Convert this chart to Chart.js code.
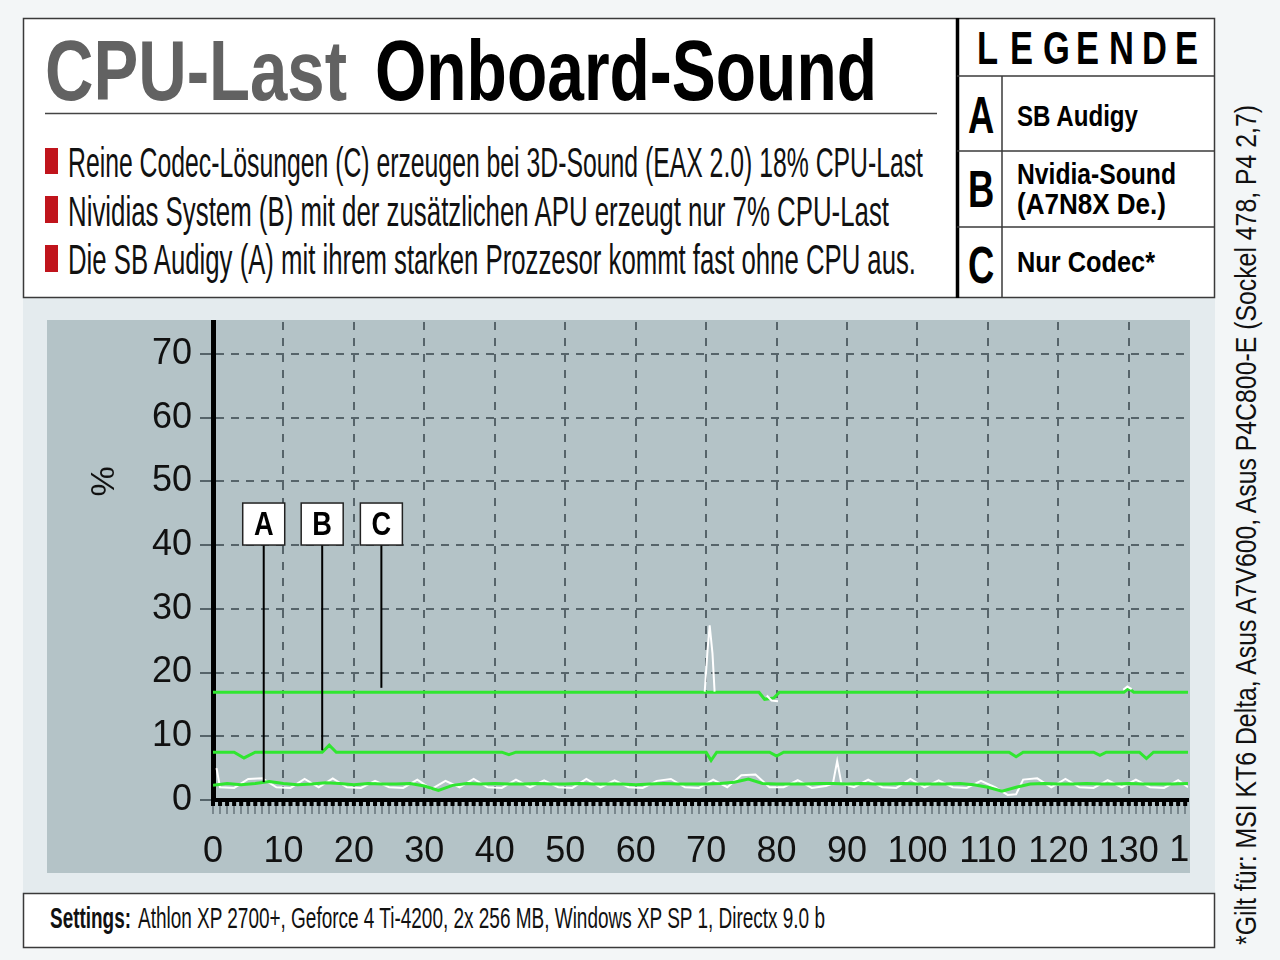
<!DOCTYPE html>
<html>
<head>
<meta charset="utf-8">
<script src="https://cdn.jsdelivr.net/npm/chart.js@4.4.1/dist/chart.umd.min.js"></script>
<style>
  html, body { margin: 0; padding: 0; overflow: hidden; background: #f3f6f7; }
  #page { position: relative; width: 1280px; height: 960px; }
  #page svg { position: absolute; left: 0; top: 0; }
  #cpuChart { position: absolute; left: 47px; top: 320px; }
  .cond { font-family: "Liberation Sans", Arial, sans-serif; }
</style>
</head>
<body>
<div id="page">
<svg width="1280" height="960" class="cond">
  <rect x="0" y="0" width="1280" height="960" fill="#f3f6f7"/>
  <rect x="23" y="298" width="1192" height="595" fill="#e4ebee"/>
  <rect x="23.5" y="18.5" width="1191" height="279" fill="#ffffff" stroke="#3a3a3a" stroke-width="1.5"/>

  <text x="45" y="100" font-size="86" font-weight="bold" fill="#626262" textLength="302" lengthAdjust="spacingAndGlyphs">CPU-Last</text>
  <text x="375" y="100" font-size="86" font-weight="bold" fill="#000" textLength="502" lengthAdjust="spacingAndGlyphs">Onboard-Sound</text>
  <line x1="45" y1="113.5" x2="937" y2="113.5" stroke="#444" stroke-width="1.5"/>

  <rect x="45" y="148" width="13" height="26" fill="#c0141c"/>
  <rect x="45" y="196" width="13" height="27" fill="#c0141c"/>
  <rect x="45" y="245" width="13" height="27" fill="#c0141c"/>
  <text x="68" y="177" font-size="43" fill="#111" textLength="855" lengthAdjust="spacingAndGlyphs">Reine Codec-Lösungen (C) erzeugen bei 3D-Sound (EAX 2.0) 18% CPU-Last</text>
  <text x="68" y="226" font-size="43" fill="#111" textLength="821" lengthAdjust="spacingAndGlyphs">Nividias System (B) mit der zusätzlichen APU erzeugt nur 7% CPU-Last</text>
  <text x="68" y="274" font-size="43" fill="#111" textLength="848" lengthAdjust="spacingAndGlyphs">Die SB Audigy (A) mit ihrem starken Prozzesor kommt fast ohne CPU aus.</text>

  <line x1="957.5" y1="18" x2="957.5" y2="298" stroke="#000" stroke-width="3.5"/>
  <line x1="957" y1="76" x2="1215" y2="76" stroke="#3a3a3a" stroke-width="1.5"/>
  <line x1="957" y1="151" x2="1215" y2="151" stroke="#3a3a3a" stroke-width="1.5"/>
  <line x1="957" y1="227" x2="1215" y2="227" stroke="#3a3a3a" stroke-width="1.5"/>
  <line x1="1002" y1="76" x2="1002" y2="298" stroke="#3a3a3a" stroke-width="1.5"/>
  <g transform="translate(977,64) scale(0.75,1)">
    <text x="0 44 88 132 176 220 264" y="0" font-size="46" font-weight="bold" fill="#000">LEGENDE</text>
  </g>
  <g transform="translate(968,133) scale(0.7,1)"><text x="0" y="0" font-size="52" font-weight="bold" fill="#000">A</text></g>
  <g transform="translate(968,207) scale(0.7,1)"><text x="0" y="0" font-size="52" font-weight="bold" fill="#000">B</text></g>
  <g transform="translate(968,283) scale(0.7,1)"><text x="0" y="0" font-size="52" font-weight="bold" fill="#000">C</text></g>
  <text x="1017" y="126" font-size="30" font-weight="bold" fill="#000" textLength="121" lengthAdjust="spacingAndGlyphs">SB Audigy</text>
  <text x="1017" y="184" font-size="30" font-weight="bold" fill="#000" textLength="159" lengthAdjust="spacingAndGlyphs">Nvidia-Sound</text>
  <text x="1017" y="214" font-size="30" font-weight="bold" fill="#000" textLength="149" lengthAdjust="spacingAndGlyphs">(A7N8X De.)</text>
  <text x="1017" y="272" font-size="30" font-weight="bold" fill="#000" textLength="138" lengthAdjust="spacingAndGlyphs">Nur Codec*</text>

  <rect x="23.5" y="893.5" width="1191" height="54" fill="#ffffff" stroke="#3a3a3a" stroke-width="1.5"/>
  <text x="50" y="928" font-size="30" font-weight="bold" fill="#111" textLength="81" lengthAdjust="spacingAndGlyphs">Settings:</text>
  <text x="138" y="928" font-size="30" fill="#111" textLength="687" lengthAdjust="spacingAndGlyphs">Athlon XP 2700+, Geforce 4 Ti-4200, 2x 256 MB, Windows XP SP 1, Directx 9.0 b</text>

  <text transform="translate(1256,945) rotate(-90)" x="0" y="0" font-size="30" fill="#111" textLength="840" lengthAdjust="spacingAndGlyphs">*Gilt für: MSI KT6 Delta, Asus A7V600, Asus P4C800-E (Sockel 478, P4 2,7)</text>
</svg>
<canvas id="cpuChart" width="1143" height="553"></canvas>
</div>

<script>
// tick labels
var xTickLabels = [0, 10, 20, 30, 40, 50, 60, 70, 80, 90, 100, 110, 120, 130, 140];
var yTickLabels = [0, 10, 20, 30, 40, 50, 60, 70];

// series, [time, % cpu]
var greenA = [[0, 2.3], [2, 2.6], [4, 2.4], [6, 2.6], [8, 2.9], [10, 2.6], [12, 2.4], [14, 2.5], [16, 2.7], [18, 2.6],
    [20, 2.4], [22, 2.6], [24, 2.5], [26, 2.5], [28, 2.6], [30, 2.2], [32, 1.5], [34, 2.3], [36, 2.6], [38, 2.5],
    [40, 2.6], [42, 2.5], [44, 2.5], [46, 2.6], [48, 2.5], [50, 2.5], [52, 2.6], [54, 2.5], [56, 2.5], [58, 2.5],
    [60, 2.4], [62, 2.5], [64, 2.6], [66, 2.5], [68, 2.5], [70, 2.5], [72, 2.6], [74, 2.8], [76, 3.3], [78, 2.6],
    [80, 2.5], [82, 2.5], [84, 2.5], [86, 2.6], [88, 2.6], [90, 2.5], [92, 2.6], [94, 2.5], [96, 2.5], [98, 2.6],
    [100, 2.5], [102, 2.5], [104, 2.5], [106, 2.6], [108, 2.4], [110, 2.0], [112, 1.4], [114, 2.0], [116, 2.5], [118, 2.6],
    [120, 2.5], [122, 2.5], [124, 2.6], [126, 2.5], [128, 2.5], [130, 2.6], [132, 2.5], [134, 2.5], [136, 2.5], [138.4, 2.6]];

var whiteA = [[0.5, 5.0], [1, 2.0], [3, 1.9], [5, 3.3], [7, 3.4], [9, 2.0], [11, 1.9], [13, 3.3], [15, 2.0], [17, 3.4],
    [19, 2.0], [21, 1.9], [23, 3.0], [25, 2.0], [27, 1.9], [29, 3.2], [31, 1.7], [33, 3.0], [35, 2.0], [37, 3.3],
    [39, 2.0], [41, 1.9], [43, 3.2], [45, 2.0], [47, 3.1], [49, 2.0], [51, 1.9], [53, 3.3], [55, 2.0], [57, 3.1],
    [59, 2.0], [61, 1.9], [63, 3.0], [65, 3.3], [67, 2.0], [69, 1.9], [71, 3.2], [73, 2.0], [75, 3.9], [77, 4.0],
    [79, 2.0], [81, 2.0], [83, 3.1], [85, 1.9], [87, 2.2], [88, 2.6], [88.6, 6.1], [89.2, 2.6], [91, 2.0], [93, 3.2],
    [95, 2.0], [97, 1.9], [99, 3.3], [101, 2.0], [103, 3.1], [105, 2.0], [107, 1.9], [109, 3.0], [111, 2.0], [112.8, 0.8],
    [114, 0.9], [115, 3.2], [117, 3.4], [119, 2.0], [121, 3.3], [123, 2.0], [125, 1.9], [127, 3.1], [129, 2.0], [131, 3.2],
    [133, 2.0], [135, 1.9], [137, 3.1], [138.4, 2.0]];

var greenB = [[0, 7.5], [3, 7.5], [4.4, 6.6], [6, 7.5], [15.5, 7.5], [16.5, 8.6], [17.5, 7.5], [41, 7.5], [42, 7.1], [43, 7.5],
    [70, 7.5], [70.7, 6.2], [71.5, 7.5], [79, 7.5], [80, 6.9], [81, 7.5], [113, 7.5], [114, 6.8], [115, 7.5], [125, 7.5],
    [125.9, 7.0], [126.8, 7.5], [131.5, 7.5], [132.5, 6.5], [133.5, 7.5], [138.4, 7.5]];

var greenC = [[0, 16.9], [77.5, 16.9], [78.3, 15.8], [79.6, 16.0], [80.4, 16.9], [129.3, 16.9], [130, 17.5], [130.7, 16.9], [138.4, 16.9]];

var whiteC = [[69.8, 17], [70.2, 23.5], [70.5, 27.4], [70.9, 23], [71.2, 17], [72, null],
    [78.6, 16.4], [79.3, 15.6], [80.2, 15.5], [81, null],
    [129.2, 17.3], [129.8, 17.8], [130.4, 17.4]];

// pointer labels inside the plot
var markerNames = ['A', 'B', 'C'];
var markerX = [7.2, 15.5, 23.9];
var markerTipY = [2.8, 7.8, 17.6];
var markerBoxY = 43.3;

var panelColor = '#b4c3c7';
var gridColor = '#56646a';
var greenColor = '#30e630';

function toPoints(pairs) {
    return pairs.map(function (p) {
        return {x: p[0], y: p[1]};
    });
}

var panelBackground = {
    id: 'panelBackground',
    beforeDraw: function (chart) {
        var ctx = chart.ctx;
        ctx.save();
        ctx.fillStyle = panelColor;
        ctx.fillRect(0, 0, chart.width, chart.height);
        ctx.restore();
    }
};

var axisDecor = {
    id: 'axisDecor',
    afterDraw: function (chart) {
        'use strict';
        var ctx = chart.ctx;
        var xs = chart.scales.x;
        var ys = chart.scales.y;
        var area = chart.chartArea;
        ctx.save();

        // checker pattern under the x axis line
        ctx.fillStyle = '#000';
        for (var i = 0; i <= Math.floor(xs.max); i++) {
            var px = xs.getPixelForValue(i);
            ctx.fillRect(px - 2, area.bottom + 2, 4, 4);
        }

        // cut-off label beyond the axis end
        ctx.font = '36px "Liberation Sans", Arial, sans-serif';
        ctx.fillStyle = '#111';
        ctx.textAlign = 'center';
        ctx.textBaseline = 'middle';
        xTickLabels.forEach(function (v) {
            if (v > xs.max) {
                ctx.fillText(String(v), xs.getPixelForValue(v), area.bottom + 51);
            }
        });

        // % sign beside the y axis
        ctx.save();
        ctx.translate(ys.left + 53, ys.getPixelForValue(50));
        ctx.rotate(Math.PI / 2);
        ctx.font = '34px "Liberation Sans", Arial, sans-serif';
        ctx.fillText('%', 0, 0);
        ctx.restore();

        // A / B / C pointers
        var half = 21;
        for (var k = 0; k < markerNames.length; k++) {
            var mx = xs.getPixelForValue(markerX[k]);
            var my = ys.getPixelForValue(markerBoxY);
            var tip = ys.getPixelForValue(markerTipY[k]);
            ctx.strokeStyle = '#000';
            ctx.lineWidth = 2;
            ctx.beginPath();
            ctx.moveTo(mx, my + half);
            ctx.lineTo(mx, tip);
            ctx.stroke();
            ctx.fillStyle = '#fff';
            ctx.fillRect(mx - half, my - half, half * 2, half * 2);
            ctx.strokeStyle = '#222';
            ctx.lineWidth = 1.5;
            ctx.strokeRect(mx - half, my - half, half * 2, half * 2);
            ctx.save();
            ctx.translate(mx, my + 2);
            ctx.scale(0.8, 1);
            ctx.fillStyle = '#000';
            ctx.font = 'bold 34px "Liberation Sans", Arial, sans-serif';
            ctx.fillText(markerNames[k], 0, 0);
            ctx.restore();
        }
        ctx.restore();
    }
};

var lineStyle = {borderWidth: 3, pointRadius: 0, tension: 0, spanGaps: false, fill: false};

var ctx = document.getElementById('cpuChart').getContext('2d');
new Chart(ctx, {
    type: 'line',
    data: {
        datasets: [
            Object.assign({label: 'A', data: toPoints(greenA), borderColor: greenColor, order: 1}, lineStyle),
            Object.assign({label: 'B', data: toPoints(greenB), borderColor: greenColor, order: 1}, lineStyle),
            Object.assign({label: 'C', data: toPoints(greenC), borderColor: greenColor, order: 1}, lineStyle),
            Object.assign({}, lineStyle, {label: 'A roh', data: toPoints(whiteA), borderColor: '#ffffff', borderWidth: 2, order: 2}),
            Object.assign({}, lineStyle, {label: 'C roh', data: toPoints(whiteC), borderColor: '#ffffff', borderWidth: 2, order: 0})
        ]
    },
    options: {
        responsive: false,
        animation: false,
        devicePixelRatio: 1,
        layout: {padding: {top: 2, right: 2, left: 0, bottom: 0}},
        plugins: {
            legend: {display: false},
            tooltip: {enabled: false}
        },
        scales: {
            x: {
                type: 'linear',
                min: 0,
                max: 138.4,
                afterFit: function (scale) {
                    scale.height = 73;
                    scale.paddingLeft = 0;
                    scale.paddingRight = 0;
                },
                border: {color: '#000', width: 4, dash: [8, 8]},
                grid: {
                    color: function (c) {
                        return c.tick && c.tick.value % 10 === 0 && c.tick.value > 0 ? gridColor : 'rgba(0,0,0,0)';
                    },
                    lineWidth: 2,
                    tickColor: '#66737a',
                    tickWidth: 1.5,
                    tickBorderDash: [],
                    tickLength: 14
                },
                ticks: {
                    stepSize: 1,
                    autoSkip: false,
                    includeBounds: false,
                    maxRotation: 0,
                    minRotation: 0,
                    padding: 16,
                    color: '#111',
                    font: {family: '"Liberation Sans", Arial, sans-serif', size: 36},
                    callback: function (v) {
                        return xTickLabels.indexOf(v) >= 0 ? String(v) : '';
                    }
                }
            },
            y: {
                min: 0,
                max: 75,
                afterFit: function (scale) {
                    scale.width = 166;
                    scale.paddingTop = 0;
                    scale.paddingBottom = 0;
                },
                border: {color: '#000', width: 5, dash: [8, 7]},
                grid: {
                    color: function (c) {
                        return c.tick && c.tick.value > 0 ? gridColor : 'rgba(0,0,0,0)';
                    },
                    lineWidth: 2,
                    tickColor: gridColor,
                    tickBorderDash: [],
                    tickLength: 13
                },
                ticks: {
                    stepSize: 10,
                    includeBounds: false,
                    padding: 8,
                    color: '#111',
                    font: {family: '"Liberation Sans", Arial, sans-serif', size: 36},
                    callback: function (v) {
                        return yTickLabels.indexOf(v) >= 0 ? String(v) : '';
                    }
                }
            }
        }
    },
    plugins: [panelBackground, axisDecor]
});
</script>
</body>
</html>
